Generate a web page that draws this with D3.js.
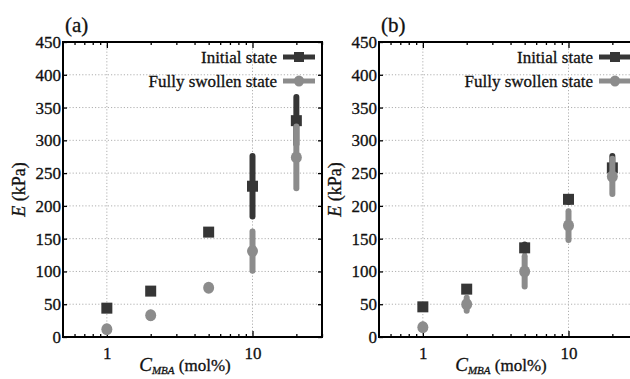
<!DOCTYPE html>
<html>
<head>
<meta charset="utf-8">
<script src="https://cdn.jsdelivr.net/npm/d3@7"></script>
<style>
  body { margin: 0; background: #fff; }
  svg { display: block; font-family: "Liberation Serif", "DejaVu Serif", serif; }
  svg text { stroke: #111; stroke-width: 0.3; }
  .grid line { stroke: #b0b0b0; stroke-width: 1; stroke-dasharray: 1.2 2; }
</style>
</head>
<body>
<svg width="630" height="379"></svg>
<script>
// concentraciones de MBA (mol%)
const concentraciones = [1, 2, 5, 10, 20];

// panel (a)
const aInicial = [44, 70, 160, 230, 330];
const aInicialErr = [3, 3, 3, 46, 36];
const aHinchado = [12, 33, 75, 131, 274];
const aHinchadoErr = [3, 4, 3, 30, 47];

// panel (b)
const bInicial = [46, 73, 136, 210, 258];
const bInicialErr = [3, 3, 5, 4, 18];
const bHinchado = [15, 50, 100, 170, 245];
const bHinchadoErr = [4, 10, 23, 22, 27];

const yTicks = [0, 50, 100, 150, 200, 250, 300, 350, 400, 450];
const xTicksMayores = [1, 10];
const xTicksMenores = [0.6, 0.7, 0.8, 0.9, 2, 3, 4, 5, 6, 7, 8, 9, 20, 30];
const etiquetasLeyenda = ["Initial state", "Fully swollen state"];

const colorOscuro = "#363636";
const colorClaro = "#8c8c8c";

const svg = d3.select("svg");

dibujarPanel(63, "(a)", aInicial, aInicialErr, aHinchado, aHinchadoErr);
dibujarPanel(379, "(b)", bInicial, bInicialErr, bHinchado, bHinchadoErr);

function dibujarPanel(x0, etiqueta, inicial, inicialErr, hinchado, hinchadoErr) {
  const ancho = 259, arriba = 42, abajo = 337;
  const g = svg.append("g");

  const x = d3.scaleLog().domain([0.5, 30]).range([x0, x0 + ancho]);
  const y = d3.scaleLinear().domain([0, 450]).range([abajo, arriba]);

  // rejilla punteada
  const grid = g.append("g").attr("class", "grid");
  grid.selectAll(".gy").data(yTicks.slice(1, -1)).enter().append("line")
      .attr("x1", x0).attr("x2", x0 + ancho)
      .attr("y1", d => y(d)).attr("y2", d => y(d));
  grid.selectAll(".gx").data(xTicksMayores).enter().append("line")
      .attr("x1", d => x(d)).attr("x2", d => x(d))
      .attr("y1", arriba).attr("y2", abajo);

  // ejes con marcas hacia dentro
  g.append("g").attr("transform", "translate(0," + abajo + ")")
      .call(d3.axisBottom(x).tickValues(xTicksMayores).tickSize(-6).tickFormat(d3.format("d")).tickPadding(10));
  g.append("g").attr("transform", "translate(0," + abajo + ")")
      .call(d3.axisBottom(x).tickValues(xTicksMenores).tickSize(-3).tickFormat(""));
  g.append("g").attr("transform", "translate(0," + arriba + ")")
      .call(d3.axisTop(x).tickValues(xTicksMayores).tickSize(-6).tickFormat(""));
  g.append("g").attr("transform", "translate(0," + arriba + ")")
      .call(d3.axisTop(x).tickValues(xTicksMenores).tickSize(-3).tickFormat(""));
  g.append("g").attr("transform", "translate(" + x0 + ",0)")
      .call(d3.axisLeft(y).tickValues(yTicks).tickSize(-4).tickPadding(2));
  g.append("g").attr("transform", "translate(" + (x0 + ancho) + ",0)")
      .call(d3.axisRight(y).tickValues(yTicks).tickSize(-4).tickFormat(""));

  g.selectAll(".domain").remove();
  g.selectAll(".tick line").attr("stroke", "#000").attr("stroke-width", 1.3);
  g.selectAll(".tick text").attr("font-size", 17).attr("font-family", "Liberation Serif").attr("fill", "#111");

  // marco
  g.append("rect").attr("x", x0).attr("y", arriba).attr("width", ancho).attr("height", abajo - arriba)
      .attr("fill", "none").attr("stroke", "#000").attr("stroke-width", 2);

  // series: primero el estado inicial, luego el hinchado encima
  dibujarSerie(g, x, y, inicial, inicialErr, colorOscuro, "cuadrado");
  dibujarSerie(g, x, y, hinchado, hinchadoErr, colorClaro, "circulo");

  // leyenda
  const xLeyenda = x0 + 220;
  etiquetasLeyenda.forEach(function (texto, i) {
    const yl = arriba + 15 + i * 24;
    const color = i === 0 ? colorOscuro : colorClaro;
    g.append("text").attr("x", xLeyenda - 6).attr("y", yl + 6).attr("text-anchor", "end")
        .attr("font-size", 17).attr("fill", "#111").text(texto);
    g.append("line").attr("x1", xLeyenda).attr("x2", xLeyenda + 32).attr("y1", yl).attr("y2", yl)
        .attr("stroke", color).attr("stroke-width", 5);
    if (i === 0) {
      g.append("rect").attr("x", xLeyenda + 11).attr("y", yl - 5).attr("width", 10).attr("height", 10).attr("fill", color);
    } else {
      g.append("ellipse").attr("cx", xLeyenda + 16).attr("cy", yl).attr("rx", 5).attr("ry", 5.5).attr("fill", color);
    }
  });

  // etiqueta del panel
  svg.append("text").attr("x", x0 + 2).attr("y", 32).attr("font-size", 21).attr("fill", "#111").text(etiqueta);

  // titulo eje y
  const ty = svg.append("text").attr("transform", "translate(" + (x0 - 38) + "," + ((arriba + abajo) / 2) + ") rotate(-90)")
      .attr("text-anchor", "middle").attr("font-size", 18).attr("fill", "#111");
  ty.append("tspan").attr("font-style", "italic").text("E");
  ty.append("tspan").text(" (kPa)");

  // titulo eje x
  const tx = svg.append("text").attr("x", x0 + 122).attr("y", 371)
      .attr("text-anchor", "middle").attr("font-size", 17).attr("fill", "#111");
  tx.append("tspan").attr("font-style", "italic").attr("font-size", 19).text("C");
  tx.append("tspan").attr("font-style", "italic").attr("font-size", 11).attr("dy", 3).text("MBA");
  tx.append("tspan").attr("dy", -3).text(" (mol%)");
}

function dibujarSerie(g, x, y, valores, errores, color, forma) {
  const datos = concentraciones.map((c, i) => ({ c: c, v: valores[i], e: errores[i] }));

  g.selectAll(null).data(datos).enter().append("line")
      .attr("x1", d => x(d.c)).attr("x2", d => x(d.c))
      .attr("y1", d => y(d.v - d.e)).attr("y2", d => y(d.v + d.e))
      .attr("stroke", color).attr("stroke-width", 6).attr("stroke-linecap", "round");

  if (forma === "cuadrado") {
    g.selectAll(null).data(datos).enter().append("rect")
        .attr("x", d => x(d.c) - 5.5).attr("y", d => y(d.v) - 5.5)
        .attr("width", 11).attr("height", 11).attr("fill", color);
  } else {
    g.selectAll(null).data(datos).enter().append("ellipse")
        .attr("cx", d => x(d.c)).attr("cy", d => y(d.v))
        .attr("rx", 5.5).attr("ry", 6).attr("fill", color);
  }
}
</script>
</body>
</html>
